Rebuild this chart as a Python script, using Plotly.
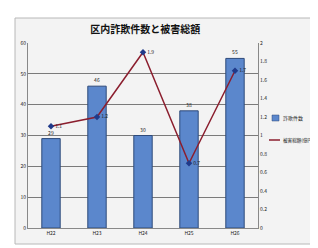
import plotly.graph_objects as go

years = ["H22", "H23", "H24", "H25", "H26"]
cases = [29, 46, 30, 38, 55]
damage = [1.1, 1.2, 1.9, 0.7, 1.7]
title_text = "区内詐欺件数と被害総額"
bar_name = "詐欺件数"
line_name = "被害総額(億円)"
left_ticks = [0, 10, 20, 30, 40, 50, 60]
right_ticks = [0, 0.2, 0.4, 0.6, 0.8, 1, 1.2, 1.4, 1.6, 1.8, 2]

FONT = "Noto Sans CJK JP"
BAR_COLOR = "#5B87CC"
BAR_EDGE = "#2E4A7A"
LINE_COLOR = "#8B1E2E"
MARK_COLOR = "#1F3A8A"

W, H = 318, 248
ML, MR, MT, MB = 20, 68, 35, 28
PW, PH = W - ML - MR, H - MT - MB


def px(x):
    return (x - ML) / PW


def py(y):
    return (H - MB - y) / PH


fig = go.Figure()
fig.add_trace(go.Bar(
    x=years, y=cases, name=bar_name, width=0.4,
    marker=dict(color=BAR_COLOR, line=dict(color=BAR_EDGE, width=1)),
    text=[str(v) for v in cases], textposition="outside",
    textfont=dict(size=5, color="#222", family=FONT),
    cliponaxis=False, showlegend=False,
))
fig.add_trace(go.Scatter(
    x=years, y=damage, name=line_name, yaxis="y2", mode="lines+markers+text",
    line=dict(color=LINE_COLOR, width=1.5),
    marker=dict(symbol="diamond", size=5, color=MARK_COLOR),
    text=[str(v) for v in damage], textposition="middle right",
    textfont=dict(size=5, color="#222", family=FONT),
    cliponaxis=False, showlegend=False,
))

# chart frame
fig.add_shape(type="rect", xref="paper", yref="paper", x0=px(7), x1=px(316), y0=py(236), y1=py(10),
              line=dict(color="#b8b8b8", width=1), fillcolor="#f3f3f3", layer="below")

# manual legend
fig.add_shape(type="rect", xref="paper", yref="paper", x0=px(264), x1=px(271), y0=py(113), y1=py(107),
              line=dict(color=BAR_EDGE, width=0.5), fillcolor=BAR_COLOR)
fig.add_annotation(xref="paper", yref="paper", x=px(273), y=py(110), text=bar_name, showarrow=False,
                   xanchor="left", yanchor="middle", font=dict(size=5, family=FONT, color="#222"))
fig.add_shape(type="line", xref="paper", yref="paper", x0=px(261), x1=px(272), y0=py(132), y1=py(132),
              line=dict(color=LINE_COLOR, width=1.5))
fig.add_trace(go.Scatter(x=[px(266.5)], y=[py(132)], xaxis="x3", yaxis="y3", mode="markers",
                         marker=dict(symbol="diamond", size=5, color=MARK_COLOR),
                         showlegend=False, hoverinfo="skip", cliponaxis=False))
fig.add_annotation(xref="paper", yref="paper", x=px(273), y=py(132), text=line_name, showarrow=False,
                   xanchor="left", yanchor="middle", font=dict(size=4.6, family=FONT, color="#222"))

fig.update_layout(
    width=W, height=H,
    margin=dict(l=ML, r=MR, t=MT, b=MB, autoexpand=False),
    paper_bgcolor="white", plot_bgcolor="#ececec",
    font=dict(family=FONT, size=5, color="#222"),
    title=dict(text="<b>" + title_text + "</b>", x=0.51, xref="paper", y=0.915, yanchor="middle",
               font=dict(size=10, color="#111", family=FONT)),
    bargap=0.6,
    showlegend=False,
    xaxis=dict(showgrid=False, showline=True, linecolor="#888", ticks="", automargin=False,
               tickfont=dict(size=5)),
    yaxis=dict(range=[0, 60], tickvals=left_ticks, showgrid=True, gridcolor="#7a7a7a", gridwidth=1,
               showline=True, linecolor="#888", ticks="", tickfont=dict(size=5), zeroline=False,
               automargin=False),
    yaxis2=dict(range=[0, 2], tickvals=right_ticks, overlaying="y", side="right", showgrid=False,
                showline=True, linecolor="#888", ticks="", tickfont=dict(size=5), zeroline=False,
                automargin=False),
    xaxis3=dict(range=[0, 1], domain=[0, 1], overlaying="x", visible=False, anchor="y3"),
    yaxis3=dict(range=[0, 1], domain=[0, 1], overlaying="y", visible=False, anchor="x3"),
)

fig.write_html("out.html")
